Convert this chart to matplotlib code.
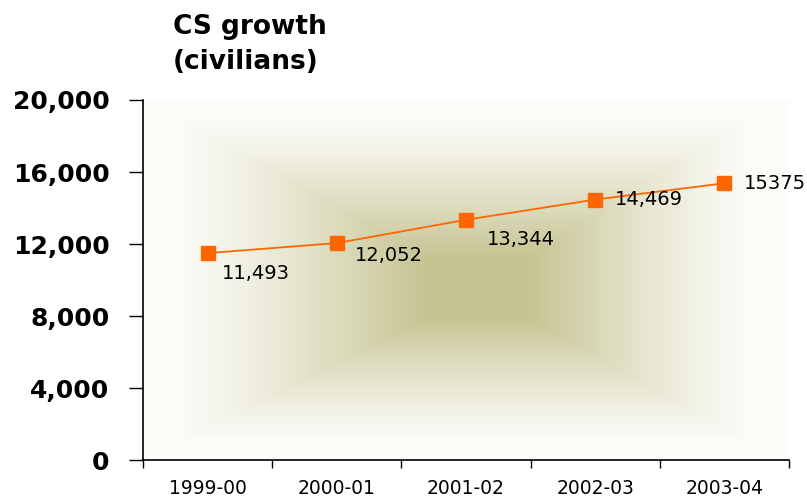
import numpy as np
import matplotlib

matplotlib.use("Agg")
import matplotlib.pyplot as plt

plt.rcParams["font.family"] = ["DejaVu Sans"]

years = ["1999-00", "2000-01", "2001-02", "2002-03", "2003-04"]
staff = [11493, 12052, 13344, 14469, 15375]
labels = ["11,493", "12,052", "13,344", "14,469", "15375"]
label_offsets = [(10.4, -14.7), (13.2, -8.6), (15, -14.5), (14.4, 0), (13.7, 0)]
y_ticks = [0, 4000, 8000, 12000, 16000, 20000]

LINE_COLOR = "#ff6600"
CENTER = np.array([197, 195, 144]) / 255.0


def rect_gradient(nx=640, ny=360):
    """Rectangular 'from centre' gradient, olive in the middle, white at the edges."""
    fx = np.linspace(0, 1, nx)
    fy = np.linspace(0, 1, ny)
    X, Y = np.meshgrid(fx, fy)
    cx, cy = 0.52, 0.47
    left, right, bottom, top = 0.035, 0.955, 0.035, 0.97
    dx = np.where(X < cx, (cx - X) / (cx - left), (X - cx) / (right - cx))
    dy = np.where(Y < cy, (cy - Y) / (cy - bottom), (Y - cy) / (top - cy))
    t = np.clip(np.maximum(dx, dy), 0, 1)
    t = np.clip((t - 0.17) / 0.83, 0, 1)
    t = 1 - (1 - t) ** 1.3
    edge = np.array([0.99, 0.99, 0.98])
    img = CENTER[None, None, :] * (1 - t[..., None]) + edge[None, None, :] * t[..., None]
    return img


fig = plt.figure(figsize=(8.07, 4.97), dpi=100)
ax = fig.add_axes([0.1772, 0.0744, 0.8005, 0.7244])

ax.imshow(rect_gradient(), extent=[0, 1, 0, 1], transform=ax.transAxes,
          origin="lower", aspect="auto", zorder=0)

x = np.arange(len(years))
ax.plot(x, staff, color=LINE_COLOR, linewidth=1.3, marker="s",
        markersize=10, markerfacecolor=LINE_COLOR, markeredgecolor=LINE_COLOR,
        zorder=3)

for xi, yi, lab, off in zip(x, staff, labels, label_offsets):
    ax.annotate(lab, (xi, yi), xytext=off, textcoords="offset points",
                ha="left", va="center", fontsize=14, color="#000000", zorder=4)

ax.set_xlim(-0.5, len(years) - 0.5)
ax.set_ylim(0, 20000)
ax.set_yticks(y_ticks)
ax.set_yticklabels([f"{v:,}" for v in y_ticks], fontsize=18, fontweight="bold")

ax.set_xticks(np.arange(len(years) + 1) - 0.5)
ax.set_xticklabels([])
ax.set_xticks(x, minor=True)
ax.set_xticklabels(years, minor=True, fontsize=13.5)
ax.tick_params(axis="x", which="minor", length=0, pad=14)
ax.tick_params(axis="x", which="major", length=6, width=1, direction="out")
ax.tick_params(axis="y", length=10, width=1, direction="out", pad=14)

for side in ["top", "right"]:
    ax.spines[side].set_visible(False)
for side in ["left", "bottom"]:
    ax.spines[side].set_linewidth(1.2)

fig.text(0.214, 1 - 34 / 497, "CS growth", fontsize=19, fontweight="bold",
         ha="left", va="baseline")
fig.text(0.214, 1 - 69 / 497, "(civilians)", fontsize=19, fontweight="bold",
         ha="left", va="baseline")

fig.savefig("out.png", dpi=100, facecolor="white")
